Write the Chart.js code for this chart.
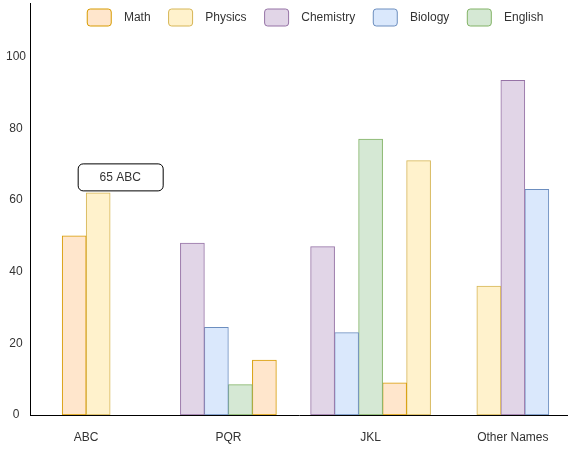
<!DOCTYPE html>
<html>
<head>
<meta charset="utf-8">
<script src="https://cdn.jsdelivr.net/npm/chart.js@4.4.1/dist/chart.umd.min.js"></script>
<style>
    html, body { margin: 0; padding: 0; background: #fff; }
    #wrap { width: 568px; height: 452px; position: relative; }
</style>
</head>
<body>
<div id="wrap"><canvas id="chart"></canvas></div>
<script>
// categories and scores
const categories = ["ABC", "PQR", "JKL", "Other Names"];
const mathScores = [50, 15.3, 9, null];
const physicsScores = [62, null, 71, 36];
const chemistryScores = [null, 48, 47, 93.4];
const biologyScores = [null, 24.5, 23, 63];
const englishScores = [null, 8.5, 77, null];
const yTicks = [0, 20, 40, 60, 80, 100];
const legendOrder = ["Math", "Physics", "Chemistry", "Biology", "English"];
const noteText = "65 ABC";

const font = "'Liberation Sans', Arial, sans-serif";

// turn a score list into {x, y} points on the numeric x axis
function points(values) {
    return values.map((v, i) => ({ x: i, y: v }));
}

// "Other Names" has Physics before Chemistry, so Physics is split in two
const otherPhysics = physicsScores.map((v, i) => (i === 3 ? v : null));
const mainPhysics = physicsScores.map((v, i) => (i === 3 ? null : v));

function bars(label, values, fill, stroke) {
    return {
        label: label,
        data: points(values),
        backgroundColor: fill,
        borderColor: stroke,
        borderWidth: 1,
        borderSkipped: false,
        barThickness: 24,
    };
}

const datasets = [
    bars("Physics", otherPhysics, "#fff2cc", "#d6b656"),
    bars("Chemistry", chemistryScores, "#e1d5e7", "#9673a6"),
    bars("Biology", biologyScores, "#dae8fc", "#6c8ebf"),
    bars("English", englishScores, "#d5e8d4", "#82b366"),
    bars("Math", mathScores, "#ffe6cc", "#d79b00"),
    bars("Physics", mainPhysics, "#fff2cc", "#d6b656"),
];

// legend sits over the plot and takes no room
const flatLegend = {
    id: "flatLegend",
    beforeInit(chart) {
        const fit = chart.legend.fit;
        chart.legend.fit = function () {
            fit.call(this);
            this.fullHeight = this.height;
            this.height = 0;
        };
    },
    afterLayout(chart) {
        const lg = chart.legend;
        lg.top -= 2;
        lg.height = lg.fullHeight;
        lg.bottom = lg.top + lg.fullHeight;
    },
};

// the rounded "65 ABC" note above the ABC physics bar
const notePlugin = {
    id: "note",
    afterDatasetsDraw(chart) {
        const bar = chart.getDatasetMeta(5).data[0];
        const ctx = chart.ctx;
        const w = 85, h = 27;
        const x = bar.x - 20.5;
        const y = bar.y - 2.5 - h;
        ctx.save();
        ctx.beginPath();
        ctx.roundRect(x + 0.5, y + 0.5, w, h, 5);
        ctx.fillStyle = "#fff";
        ctx.fill();
        ctx.strokeStyle = "#000";
        ctx.lineWidth = 1;
        ctx.stroke();
        ctx.fillStyle = "#333";
        ctx.font = "12px " + font;
        ctx.textAlign = "center";
        ctx.textBaseline = "middle";
        ctx.fillText(noteText, x + w / 2, y + h / 2 + 1);
        ctx.restore();
    },
};

Chart.defaults.font.family = font;
Chart.defaults.font.size = 12;
Chart.defaults.color = "#333";

new Chart(document.getElementById("chart"), {
    type: "bar",
    data: { datasets: datasets },
    plugins: [flatLegend, notePlugin],
    options: {
        responsive: true,
        maintainAspectRatio: false,
        animation: false,
        skipNull: true,
        layout: { padding: 0 },
        scales: {
            x: {
                type: "linear",
                offset: false,
                min: -0.395,
                max: 3.388,
                afterBuildTicks: (scale) => {
                    scale.ticks = categories.map((c, i) => ({ value: i }));
                },
                afterFit: (scale) => {
                    scale.height = 37;
                    scale.paddingLeft = 0;
                    scale.paddingRight = 0;
                },
                ticks: {
                    padding: 15,
                    callback: (v) => categories[v],
                },
                grid: { display: false, drawTicks: false, offset: false },
                border: { display: true, color: "#000", width: 1 },
            },
            y: {
                min: 0,
                max: 115,
                afterBuildTicks: (scale) => {
                    scale.ticks = yTicks.map((v) => ({ value: v }));
                },
                afterFit: (scale) => {
                    scale.width = 30;
                    scale.paddingTop = 3;
                    scale.paddingBottom = 0;
                },
                ticks: { padding: 4, crossAlign: "center" },
                grid: { display: false, drawTicks: false },
                border: { display: true, color: "#000", width: 1 },
            },
        },
        plugins: {
            tooltip: { enabled: false },
            legend: {
                position: "top",
                align: "end",
                labels: {
                    boxWidth: 24,
                    boxHeight: 17,
                    padding: 8,
                    useBorderRadius: true,
                    borderRadius: 3,
                    color: "#333",
                    generateLabels(chart) {
                        const items = Chart.defaults.plugins.legend.labels.generateLabels(chart);
                        return items
                            .filter((item) => item.datasetIndex !== 0)
                            .sort((a, b) => legendOrder.indexOf(a.text) - legendOrder.indexOf(b.text))
                            .map((item, i, all) => ({
                                ...item,
                                text: "  " + item.text + (i === all.length - 1 ? "     " : "   "),
                            }));
                    },
                },
            },
        },
    },
});
</script>
</body>
</html>
